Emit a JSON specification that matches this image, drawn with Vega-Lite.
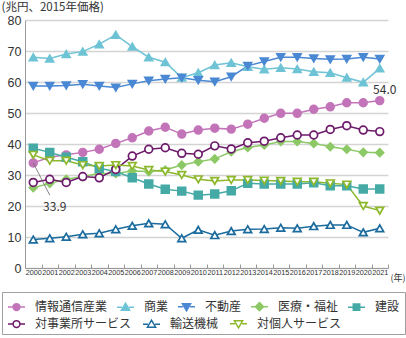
{
  "$schema": "https://vega.github.io/schema/vega-lite/v6.json",
  "width": 363,
  "height": 248,
  "autosize": {"type": "none"},
  "padding": {"left": 25, "top": 20, "right": 18, "bottom": 70},
  "background": "white",
  "config": {
    "view": {"stroke": null},
    "font": "Noto Sans CJK JP",
    "text": {"font": "Noto Sans CJK JP"}
  },
  "data": {
    "values": [
      {"year": "2000", "series": "情報通信産業", "value": 33.9},
      {"year": "2001", "series": "情報通信産業", "value": 35.7},
      {"year": "2002", "series": "情報通信産業", "value": 36.5},
      {"year": "2003", "series": "情報通信産業", "value": 37.3},
      {"year": "2004", "series": "情報通信産業", "value": 38.3},
      {"year": "2005", "series": "情報通信産業", "value": 40.2},
      {"year": "2006", "series": "情報通信産業", "value": 42.0},
      {"year": "2007", "series": "情報通信産業", "value": 44.2},
      {"year": "2008", "series": "情報通信産業", "value": 45.4},
      {"year": "2009", "series": "情報通信産業", "value": 43.2},
      {"year": "2010", "series": "情報通信産業", "value": 44.5},
      {"year": "2011", "series": "情報通信産業", "value": 45.1},
      {"year": "2012", "series": "情報通信産業", "value": 44.8},
      {"year": "2013", "series": "情報通信産業", "value": 46.4},
      {"year": "2014", "series": "情報通信産業", "value": 48.3},
      {"year": "2015", "series": "情報通信産業", "value": 49.9},
      {"year": "2016", "series": "情報通信産業", "value": 49.9},
      {"year": "2017", "series": "情報通信産業", "value": 51.2},
      {"year": "2018", "series": "情報通信産業", "value": 52.0},
      {"year": "2019", "series": "情報通信産業", "value": 53.3},
      {"year": "2020", "series": "情報通信産業", "value": 53.3},
      {"year": "2021", "series": "情報通信産業", "value": 54.0},
      {"year": "2000", "series": "商業", "value": 68.0},
      {"year": "2001", "series": "商業", "value": 67.6},
      {"year": "2002", "series": "商業", "value": 69.0},
      {"year": "2003", "series": "商業", "value": 69.8},
      {"year": "2004", "series": "商業", "value": 72.2},
      {"year": "2005", "series": "商業", "value": 75.2},
      {"year": "2006", "series": "商業", "value": 71.4},
      {"year": "2007", "series": "商業", "value": 68.0},
      {"year": "2008", "series": "商業", "value": 66.4},
      {"year": "2009", "series": "商業", "value": 61.4},
      {"year": "2010", "series": "商業", "value": 63.0},
      {"year": "2011", "series": "商業", "value": 65.5},
      {"year": "2012", "series": "商業", "value": 66.2},
      {"year": "2013", "series": "商業", "value": 64.9},
      {"year": "2014", "series": "商業", "value": 64.1},
      {"year": "2015", "series": "商業", "value": 64.6},
      {"year": "2016", "series": "商業", "value": 64.2},
      {"year": "2017", "series": "商業", "value": 63.3},
      {"year": "2018", "series": "商業", "value": 63.0},
      {"year": "2019", "series": "商業", "value": 61.4},
      {"year": "2020", "series": "商業", "value": 59.9},
      {"year": "2021", "series": "商業", "value": 64.4},
      {"year": "2000", "series": "不動産", "value": 58.7},
      {"year": "2001", "series": "不動産", "value": 58.7},
      {"year": "2002", "series": "不動産", "value": 58.9},
      {"year": "2003", "series": "不動産", "value": 59.3},
      {"year": "2004", "series": "不動産", "value": 58.7},
      {"year": "2005", "series": "不動産", "value": 58.2},
      {"year": "2006", "series": "不動産", "value": 59.4},
      {"year": "2007", "series": "不動産", "value": 60.4},
      {"year": "2008", "series": "不動産", "value": 61.0},
      {"year": "2009", "series": "不動産", "value": 61.4},
      {"year": "2010", "series": "不動産", "value": 60.6},
      {"year": "2011", "series": "不動産", "value": 60.1},
      {"year": "2012", "series": "不動産", "value": 61.7},
      {"year": "2013", "series": "不動産", "value": 65.2},
      {"year": "2014", "series": "不動産", "value": 66.6},
      {"year": "2015", "series": "不動産", "value": 68.0},
      {"year": "2016", "series": "不動産", "value": 68.0},
      {"year": "2017", "series": "不動産", "value": 67.6},
      {"year": "2018", "series": "不動産", "value": 67.3},
      {"year": "2019", "series": "不動産", "value": 67.4},
      {"year": "2020", "series": "不動産", "value": 68.0},
      {"year": "2021", "series": "不動産", "value": 67.4},
      {"year": "2000", "series": "医療・福祉", "value": 25.9},
      {"year": "2001", "series": "医療・福祉", "value": 27.3},
      {"year": "2002", "series": "医療・福祉", "value": 28.6},
      {"year": "2003", "series": "医療・福祉", "value": 29.5},
      {"year": "2004", "series": "医療・福祉", "value": 30.5},
      {"year": "2005", "series": "医療・福祉", "value": 30.5},
      {"year": "2006", "series": "医療・福祉", "value": 31.3},
      {"year": "2007", "series": "医療・福祉", "value": 31.1},
      {"year": "2008", "series": "医療・福祉", "value": 31.6},
      {"year": "2009", "series": "医療・福祉", "value": 33.2},
      {"year": "2010", "series": "医療・福祉", "value": 34.3},
      {"year": "2011", "series": "医療・福祉", "value": 35.2},
      {"year": "2012", "series": "医療・福祉", "value": 37.5},
      {"year": "2013", "series": "医療・福祉", "value": 38.9},
      {"year": "2014", "series": "医療・福祉", "value": 39.7},
      {"year": "2015", "series": "医療・福祉", "value": 40.8},
      {"year": "2016", "series": "医療・福祉", "value": 40.8},
      {"year": "2017", "series": "医療・福祉", "value": 40.2},
      {"year": "2018", "series": "医療・福祉", "value": 39.1},
      {"year": "2019", "series": "医療・福祉", "value": 38.3},
      {"year": "2020", "series": "医療・福祉", "value": 37.3},
      {"year": "2021", "series": "医療・福祉", "value": 37.2},
      {"year": "2000", "series": "建設", "value": 38.6},
      {"year": "2001", "series": "建設", "value": 37.3},
      {"year": "2002", "series": "建設", "value": 35.7},
      {"year": "2003", "series": "建設", "value": 34.3},
      {"year": "2004", "series": "建設", "value": 32.2},
      {"year": "2005", "series": "建設", "value": 31.1},
      {"year": "2006", "series": "建設", "value": 29.1},
      {"year": "2007", "series": "建設", "value": 27.1},
      {"year": "2008", "series": "建設", "value": 25.4},
      {"year": "2009", "series": "建設", "value": 24.8},
      {"year": "2010", "series": "建設", "value": 23.5},
      {"year": "2011", "series": "建設", "value": 23.9},
      {"year": "2012", "series": "建設", "value": 24.9},
      {"year": "2013", "series": "建設", "value": 27.3},
      {"year": "2014", "series": "建設", "value": 27.1},
      {"year": "2015", "series": "建設", "value": 27.1},
      {"year": "2016", "series": "建設", "value": 27.1},
      {"year": "2017", "series": "建設", "value": 27.5},
      {"year": "2018", "series": "建設", "value": 26.5},
      {"year": "2019", "series": "建設", "value": 26.5},
      {"year": "2020", "series": "建設", "value": 25.5},
      {"year": "2021", "series": "建設", "value": 25.5},
      {"year": "2000", "series": "対事業所サービス", "value": 27.6},
      {"year": "2001", "series": "対事業所サービス", "value": 28.6},
      {"year": "2002", "series": "対事業所サービス", "value": 27.6},
      {"year": "2003", "series": "対事業所サービス", "value": 29.5},
      {"year": "2004", "series": "対事業所サービス", "value": 29.1},
      {"year": "2005", "series": "対事業所サービス", "value": 31.8},
      {"year": "2006", "series": "対事業所サービス", "value": 36.1},
      {"year": "2007", "series": "対事業所サービス", "value": 38.3},
      {"year": "2008", "series": "対事業所サービス", "value": 38.8},
      {"year": "2009", "series": "対事業所サービス", "value": 37.0},
      {"year": "2010", "series": "対事業所サービス", "value": 36.7},
      {"year": "2011", "series": "対事業所サービス", "value": 39.4},
      {"year": "2012", "series": "対事業所サービス", "value": 38.4},
      {"year": "2013", "series": "対事業所サービス", "value": 40.4},
      {"year": "2014", "series": "対事業所サービス", "value": 40.9},
      {"year": "2015", "series": "対事業所サービス", "value": 42.0},
      {"year": "2016", "series": "対事業所サービス", "value": 42.9},
      {"year": "2017", "series": "対事業所サービス", "value": 42.9},
      {"year": "2018", "series": "対事業所サービス", "value": 44.7},
      {"year": "2019", "series": "対事業所サービス", "value": 45.9},
      {"year": "2020", "series": "対事業所サービス", "value": 44.5},
      {"year": "2021", "series": "対事業所サービス", "value": 44.0},
      {"year": "2000", "series": "輸送機械", "value": 9.2},
      {"year": "2001", "series": "輸送機械", "value": 9.6},
      {"year": "2002", "series": "輸送機械", "value": 10.1},
      {"year": "2003", "series": "輸送機械", "value": 10.9},
      {"year": "2004", "series": "輸送機械", "value": 11.2},
      {"year": "2005", "series": "輸送機械", "value": 12.5},
      {"year": "2006", "series": "輸送機械", "value": 13.6},
      {"year": "2007", "series": "輸送機械", "value": 14.4},
      {"year": "2008", "series": "輸送機械", "value": 14.1},
      {"year": "2009", "series": "輸送機械", "value": 9.6},
      {"year": "2010", "series": "輸送機械", "value": 12.3},
      {"year": "2011", "series": "輸送機械", "value": 10.6},
      {"year": "2012", "series": "輸送機械", "value": 11.9},
      {"year": "2013", "series": "輸送機械", "value": 12.5},
      {"year": "2014", "series": "輸送機械", "value": 12.6},
      {"year": "2015", "series": "輸送機械", "value": 13.0},
      {"year": "2016", "series": "輸送機械", "value": 12.8},
      {"year": "2017", "series": "輸送機械", "value": 13.5},
      {"year": "2018", "series": "輸送機械", "value": 13.9},
      {"year": "2019", "series": "輸送機械", "value": 13.9},
      {"year": "2020", "series": "輸送機械", "value": 11.5},
      {"year": "2021", "series": "輸送機械", "value": 12.8},
      {"year": "2000", "series": "対個人サービス", "value": 36.5},
      {"year": "2001", "series": "対個人サービス", "value": 34.6},
      {"year": "2002", "series": "対個人サービス", "value": 34.6},
      {"year": "2003", "series": "対個人サービス", "value": 33.2},
      {"year": "2004", "series": "対個人サービス", "value": 32.9},
      {"year": "2005", "series": "対個人サービス", "value": 33.2},
      {"year": "2006", "series": "対個人サービス", "value": 32.9},
      {"year": "2007", "series": "対個人サービス", "value": 31.6},
      {"year": "2008", "series": "対個人サービス", "value": 31.1},
      {"year": "2009", "series": "対個人サービス", "value": 30.0},
      {"year": "2010", "series": "対個人サービス", "value": 28.6},
      {"year": "2011", "series": "対個人サービス", "value": 28.1},
      {"year": "2012", "series": "対個人サービス", "value": 28.4},
      {"year": "2013", "series": "対個人サービス", "value": 28.4},
      {"year": "2014", "series": "対個人サービス", "value": 28.2},
      {"year": "2015", "series": "対個人サービス", "value": 28.1},
      {"year": "2016", "series": "対個人サービス", "value": 27.8},
      {"year": "2017", "series": "対個人サービス", "value": 27.8},
      {"year": "2018", "series": "対個人サービス", "value": 27.3},
      {"year": "2019", "series": "対個人サービス", "value": 26.9},
      {"year": "2020", "series": "対個人サービス", "value": 20.0},
      {"year": "2021", "series": "対個人サービス", "value": 18.5}
    ]
  },
  "encoding": {
    "x": {
      "field": "year",
      "type": "ordinal",
      "scale": {"type": "band", "paddingInner": 0, "paddingOuter": 0},
      "axis": {
        "title": "(年)",
        "titleFont": "Noto Sans CJK JP",
        "titleFontSize": 9,
        "titleFontWeight": "normal",
        "titleColor": "#333333",
        "titleAlign": "left",
        "titleBaseline": "middle",
        "titleAnchor": "start",
        "titleX": 365,
        "titleY": 9,
        "labelAngle": 0,
        "labelFont": "Liberation Sans",
        "labelFontSize": 7.3,
        "labelColor": "#333333",
        "labelPadding": 4,
        "tickBand": "extent",
        "tickSize": -4,
        "tickColor": "#999999",
        "domainColor": "#999999",
        "grid": false
      }
    },
    "y": {
      "field": "value",
      "type": "quantitative",
      "scale": {"domain": [0, 80], "nice": false},
      "axis": {
        "title": "(兆円、2015年価格)",
        "titleFont": "Noto Sans CJK JP",
        "titleFontSize": 11.5,
        "titleFontWeight": "normal",
        "titleColor": "#333333",
        "titleAngle": 0,
        "titleAlign": "left",
        "titleBaseline": "top",
        "titleX": -24,
        "titleY": -19,
        "values": [0, 10, 20, 30, 40, 50, 60, 70, 80],
        "labelFont": "Liberation Sans",
        "labelFontSize": 12.5,
        "labelColor": "#333333",
        "labelPadding": 4,
        "ticks": false,
        "domainColor": "#999999",
        "grid": true,
        "gridColor": "#d4d4d4",
        "gridWidth": 1.5
      }
    }
  },
  "resolve": {"scale": {"stroke": "independent", "fill": "independent", "shape": "independent"}},
  "layer": [
    {
      "mark": {"type": "line", "strokeWidth": 1.5},
      "encoding": {
        "stroke": {
          "field": "series",
          "type": "nominal",
          "scale": {
            "domain": ["情報通信産業", "商業", "不動産", "医療・福祉", "建設", "対事業所サービス", "輸送機械", "対個人サービス"],
            "range": ["#c374b9", "#6ec3d5", "#4a88d4", "#8cc966", "#45aaa5", "#6d1a6b", "#1b6b9e", "#8db82b"]
          },
          "legend": null
        }
      }
    },
    {
      "mark": {"type": "point", "filled": true, "size": 60, "strokeWidth": 1.7, "opacity": 1},
      "encoding": {
        "stroke": {
          "field": "series",
          "type": "nominal",
          "scale": {
            "domain": ["情報通信産業", "商業", "不動産", "医療・福祉", "建設", "対事業所サービス", "輸送機械", "対個人サービス"],
            "range": ["#c374b9", "#6ec3d5", "#4a88d4", "#8cc966", "#45aaa5", "#6d1a6b", "#1b6b9e", "#8db82b"]
          },
          "legend": null
        },
        "fill": {
          "field": "series",
          "type": "nominal",
          "scale": {
            "domain": ["情報通信産業", "商業", "不動産", "医療・福祉", "建設", "対事業所サービス", "輸送機械", "対個人サービス"],
            "range": ["#c374b9", "#6ec3d5", "#4a88d4", "#8cc966", "#45aaa5", "#ffffff", "#ffffff", "#ffffff"]
          },
          "legend": null
        },
        "shape": {
          "field": "series",
          "type": "nominal",
          "scale": {
            "domain": ["情報通信産業", "商業", "不動産", "医療・福祉", "建設", "対事業所サービス", "輸送機械", "対個人サービス"],
            "range": ["circle", "triangle-up", "triangle-down", "diamond", "square", "circle", "triangle-up", "triangle-down"]
          },
          "legend": null
        }
      }
    },
    {
      "transform": [{"filter": "datum.value > 1000"}],
      "mark": {"type": "point", "filled": true, "strokeWidth": 1.5, "opacity": 1},
      "encoding": {
        "stroke": {
          "field": "series",
          "type": "nominal",
          "scale": {
            "domain": ["情報通信産業", "商業", "不動産", "医療・福祉", "建設"],
            "range": ["#c374b9", "#6ec3d5", "#4a88d4", "#8cc966", "#45aaa5"]
          },
          "legend": {
            "title": " ",
            "titleOrient": "bottom",
            "titleFontSize": 14,
            "titlePadding": 1,
            "orient": "none",
            "legendX": -23,
            "legendY": 272,
            "direction": "horizontal",
            "columns": 5,
            "symbolSize": 289,
            "symbolStrokeWidth": 1.5,
            "labelFont": "Noto Sans CJK JP",
            "labelFontSize": 12,
            "labelColor": "#333333",
            "labelOffset": 9,
            "labelLimit": 0,
            "columnPadding": 6,
            "rowPadding": 0,
            "padding": 5,
            "strokeColor": "#a0a0a0",
            "fillColor": "white"
          }
        },
        "fill": {
          "field": "series",
          "type": "nominal",
          "scale": {
            "domain": ["情報通信産業", "商業", "不動産", "医療・福祉", "建設"],
            "range": ["#c374b9", "#6ec3d5", "#4a88d4", "#8cc966", "#45aaa5"]
          }
        },
        "shape": {
          "field": "series",
          "type": "nominal",
          "scale": {
            "domain": ["情報通信産業", "商業", "不動産", "医療・福祉", "建設"],
            "range": [
              "M-1,0H-0.4M0.4,0H1M-0.4,0A0.4,0.4,0,1,0,0.4,0A0.4,0.4,0,1,0,-0.4,0Z",
              "M-1,0H-0.42M0.42,0H1M0,-0.48L0.48,0.34L-0.48,0.34Z",
              "M-1,0H-0.42M0.42,0H1M0,0.48L0.48,-0.34L-0.48,-0.34Z",
              "M-1,0H-0.48M0.48,0H1M0,-0.48L0.48,0L0,0.48L-0.48,0Z",
              "M-1,0H-0.38M0.38,0H1M-0.38,-0.38H0.38V0.38H-0.38Z"
            ]
          }
        }
      }
    },
    {
      "transform": [{"filter": "datum.value > 1000"}],
      "mark": {"type": "point", "filled": true, "strokeWidth": 1.5, "opacity": 1},
      "encoding": {
        "stroke": {
          "field": "series",
          "type": "nominal",
          "scale": {
            "domain": ["対事業所サービス", "輸送機械", "対個人サービス"],
            "range": ["#6d1a6b", "#1b6b9e", "#8db82b"]
          },
          "legend": {
            "title": null,
            "orient": "none",
            "legendX": -23,
            "legendY": 289,
            "direction": "horizontal",
            "columns": 3,
            "symbolSize": 289,
            "symbolStrokeWidth": 1.5,
            "labelFont": "Noto Sans CJK JP",
            "labelFontSize": 12,
            "labelColor": "#333333",
            "labelOffset": 9,
            "labelLimit": 0,
            "columnPadding": 8,
            "rowPadding": 0,
            "padding": 5
          }
        },
        "fill": {
          "field": "series",
          "type": "nominal",
          "scale": {
            "domain": ["対事業所サービス", "輸送機械", "対個人サービス"],
            "range": ["#ffffff", "#ffffff", "#ffffff"]
          }
        },
        "shape": {
          "field": "series",
          "type": "nominal",
          "scale": {
            "domain": ["対事業所サービス", "輸送機械", "対個人サービス"],
            "range": [
              "M-1,0H-0.4M0.4,0H1M-0.4,0A0.4,0.4,0,1,0,0.4,0A0.4,0.4,0,1,0,-0.4,0Z",
              "M-1,0H-0.42M0.42,0H1M0,-0.48L0.48,0.34L-0.48,0.34Z",
              "M-1,0H-0.42M0.42,0H1M0,0.48L0.48,-0.34L-0.48,-0.34Z"
            ]
          }
        }
      }
    },
    {
      "data": {"values": [{"year": "2000", "year2": "2001", "from": 33.9, "to": 23.5}]},
      "mark": {"type": "rule", "color": "#666666", "strokeWidth": 0.8},
      "encoding": {
        "x2": {"field": "year2"},
        "y": {"field": "from", "type": "quantitative"},
        "y2": {"field": "to"}
      }
    },
    {
      "data": {"values": [{"year": "2001", "value": 19.8, "label": "33.9"}, {"year": "2021", "value": 57.5, "label": "54.0"}]},
      "mark": {"type": "text", "fontSize": 12, "color": "#333333", "dx": 5, "baseline": "middle", "align": "center"},
      "encoding": {
        "text": {"field": "label"}
      }
    }
  ]
}
